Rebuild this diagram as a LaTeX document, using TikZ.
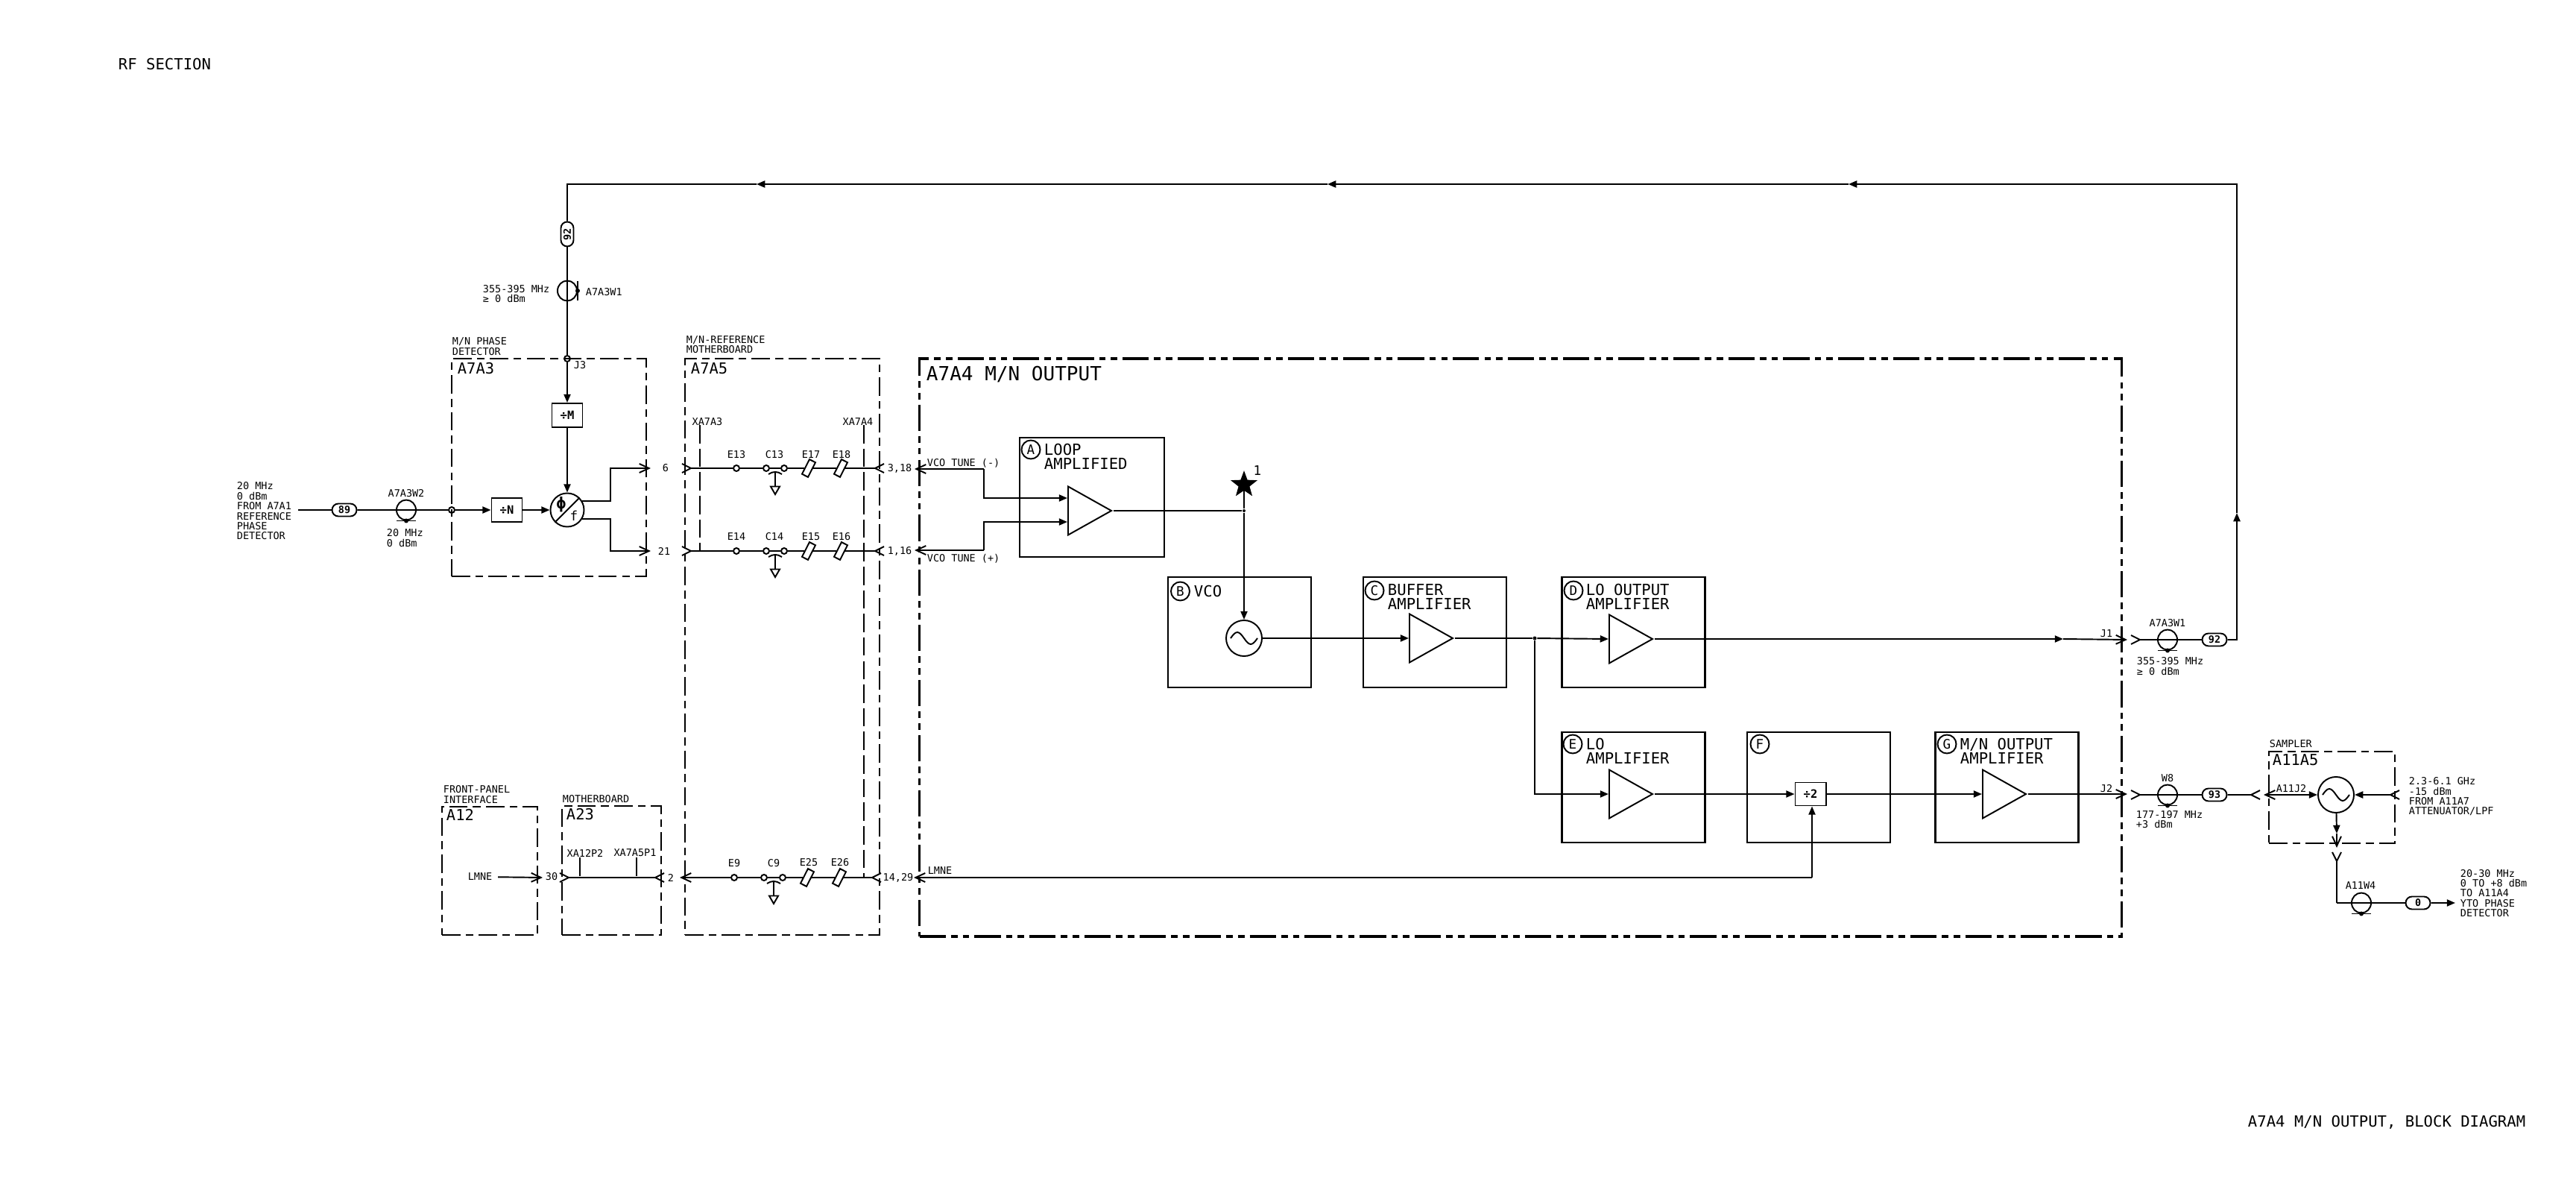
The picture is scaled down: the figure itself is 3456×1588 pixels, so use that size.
\documentclass[tikz,border=0pt]{standalone}
\usepackage{fontspec}
\setmainfont{DejaVu Sans Mono}
\usetikzlibrary{arrows.meta,shapes.geometric,shapes.misc}

\begin{document}
\begin{tikzpicture}[x=0.01cm, y=-0.01cm, line width=0.55pt,
  lab/.style={inner sep=0pt, align=left, font=\fontsize{3.83}{3.8}\selectfont},
  txt/.style={lab, anchor=west},
  sub/.style={inner sep=0pt, anchor=west, font=\fontsize{5.8}{5.8}\selectfont},
  ttl/.style={inner sep=0pt, anchor=west, align=left, font=\fontsize{5.86}{5.4}\selectfont},
  box/.style={draw, line width=0.7pt, minimum width=1.92cm, minimum height=1.48cm, inner sep=0pt},
  asm/.style={draw, line width=0.7pt, inner sep=0pt, dash pattern=on 7pt off 2pt on 3pt off 2pt},
  tag/.style={draw, circle, minimum size=0.25cm, inner sep=0pt, font=\fontsize{5}{5}\selectfont},
  amp/.style={draw, isosceles triangle, isosceles triangle stretches, minimum width=0.65cm, minimum height=0.58cm, inner sep=0pt, anchor=lower side},
  ov/.style={draw, rounded rectangle, minimum width=0.33cm, minimum height=0.17cm, inner sep=0pt, font=\fontsize{3.8}{3.8}\bfseries\selectfont},
  coax/.style={draw, ellipse, minimum width=0.26cm, minimum height=0.27cm, inner sep=0pt},
  pad/.style={draw, circle, minimum size=0.08cm, inner sep=0pt},
  res/.style={draw, rectangle, minimum width=0.09cm, minimum height=0.22cm, inner sep=0pt, rotate=-27},
  gnd/.style={draw, regular polygon, regular polygon sides=3, shape border rotate=180, minimum size=0.14cm, inner sep=0pt},
  div/.style={draw, minimum width=0.41cm, minimum height=0.32cm, inner sep=0pt, font=\fontsize{4.4}{4.4}\bfseries\selectfont},
  osc/.style={draw, circle, minimum size=0.48cm, inner sep=0pt},
  dot/.style={circle, fill, minimum size=0.05cm, inner sep=0pt},
  xdash/.style={dash pattern=on 7pt off 2pt},
  fil/.style={-{Triangle[length=3.2pt,width=2.6pt]}},
  opn/.style={-{Straight Barb[length=3.7pt,width=3.4pt]}},
  rev/.style={{Straight Barb[reversed,length=3.4pt,width=3.4pt]}-},
  rvend/.style={-{Straight Barb[reversed,length=3.4pt,width=3.4pt]}},
  revboth/.style={{Straight Barb[reversed,length=3.4pt,width=3.4pt]}-{Straight Barb[reversed,length=3.4pt,width=3.4pt]}},
  revfil/.style={{Straight Barb[reversed,length=3.4pt,width=3.4pt]}-{Triangle[length=3.2pt,width=2.6pt]}},
  opnfil/.style={{Straight Barb[length=3.7pt,width=3.4pt]}-{Triangle[length=3.2pt,width=2.6pt]}}]
  \path[use as bounding box, fill=white] (0,0) rectangle (3456,1588);
  % sheet titles
  \node[ttl] (sheet) at (158,86) {RF SECTION};
  \node[ttl] (caption) at (3015,1505) {A7A4 M/N OUTPUT, BLOCK DIAGRAM};
  % assemblies
  \node[asm, minimum width=2.61cm, minimum height=2.92cm] (a7a3) at (736.5,627) {};
  \node[asm, minimum width=2.61cm, minimum height=7.73cm] (a7a5) at (1049.5,867.5) {};
  \node[asm, line width=1.1pt, minimum width=16.12cm, minimum height=7.74cm, dash pattern=on 10pt off 2pt on 2.5pt off 2pt on 2.5pt off 2pt] (a7a4) at (2040,868.5) {};
  \node[asm, minimum width=1.28cm, minimum height=1.72cm] (a12) at (657,1168) {};
  \node[asm, minimum width=1.33cm, minimum height=1.73cm] (a23) at (820.5,1167.5) {};
  \node[asm, minimum width=1.69cm, minimum height=1.23cm] (a11a5) at (3128.5,1069.5) {};
  \node[txt] (a7a3n) at (606,464.5) {M/N PHASE\\DETECTOR};
  \node[sub] (a7a3t) at (613,494) {A7A3};
  \node[txt] (a7a5n) at (920,462) {M/N-REFERENCE\\MOTHERBOARD};
  \node[sub] (a7a5t) at (926,494) {A7A5};
  \node[inner sep=0pt, anchor=west, font=\fontsize{7.4}{7.4}\selectfont] (a7a4t) at (1242,502) {A7A4 M/N OUTPUT};
  \node[txt] (a12n) at (594,1065.5) {FRONT-PANEL\\INTERFACE};
  \node[sub] (a12t) at (598,1093) {A12};
  \node[txt] (a23n) at (754,1072) {MOTHERBOARD};
  \node[sub] (a23t) at (759,1092) {A23};
  \node[txt] (a11n) at (3044,998) {SAMPLER};
  \node[sub] (a11t) at (3048,1019) {A11A5};
  % phase detector
  \node[pad] (j3) at (761,481) {};
  \node[lab] (j3t) at (778,490) {J3};
  \node[div] (divm) at (761,557) {÷M};
  \node[div] (divn) at (680,684) {÷N};
  \node[osc, minimum size=0.45cm] (phd) at (761,684) {};
  \node[inner sep=0pt, font=\fontsize{6}{6}\bfseries\selectfont] (phi) at (753,677) {ϕ};
  \node[inner sep=0pt, font=\fontsize{5}{5}\selectfont] (fre) at (770,692) {f};
  \draw (phd.north east) -- (phd.south west);
  \node[pad] (jin) at (606,684) {};
  \node[ov] (ov89) at (462,684) {89};
  \node[coax] (w2) at (545,684) {};
  \draw (w2.south) +(-13,0) -- +(13,0);
  \fill (w2.south) circle (3);
  \node[txt] (intxt) at (317,685.5) {20 MHz\\0 dBm\\FROM A7A1\\REFERENCE\\PHASE\\DETECTOR};
  \node[lab] (w2t) at (545,662) {A7A3W2};
  \node[txt] (w2v) at (518,721.5) {20 MHz\\0 dBm};
  % feedback cable
  \node[ov, rotate=90] (ov92a) at (761,314) {92};
  \node[coax] (w1a) at (761,390) {};
  \draw (w1a.east) +(0,-13) -- +(0,13);
  \fill (w1a.east) circle (3);
  \node[txt] (w1av) at (647,394) {355-395 MHz\\≥ 0 dBm};
  \node[txt] (w1at) at (785,392) {A7A3W1};
  % motherboard A7A5
  \node[lab] (p6) at (893,628) {6};
  \node[lab] (p21) at (891,739) {21};
  \node[lab] (p318) at (1207,628) {3,18};
  \node[lab] (p116) at (1207,739) {1,16};
  \node[lab] (p1429) at (1205,1177) {14,29};
  \node[lab] (p2) at (900,1177) {2};
  \node[lab] (p30) at (740,1176) {30};
  \node[lab] (xa3) at (949,566) {XA7A3};
  \node[lab] (xa4) at (1151,566) {XA7A4};
  \node[lab] (xa12) at (785,1144) {XA12P2};
  \node[lab] (xa75) at (852,1144) {XA7A5P1};
  \node[pad] (e13) at (988,628) {};
  \node[pad] (c13a) at (1028,628) {};
  \node[pad] (c13b) at (1052,628) {};
  \node[res] (e17) at (1085,628) {};
  \node[res] (e18) at (1128,628) {};
  \node[gnd] (g13) at (1040,656) {};
  \node[lab] (e13t) at (988,610) {E13};
  \node[lab] (c13t) at (1039,610) {C13};
  \node[lab] (e17t) at (1088,610) {E17};
  \node[lab] (e18t) at (1129,610) {E18};
  \node[pad] (e14) at (988,739) {};
  \node[pad] (c14a) at (1028,739) {};
  \node[pad] (c14b) at (1052,739) {};
  \node[res] (e15) at (1085,739) {};
  \node[res] (e16) at (1128,739) {};
  \node[gnd] (g14) at (1040,767) {};
  \node[lab] (e14t) at (988,720) {E14};
  \node[lab] (c14t) at (1039,720) {C14};
  \node[lab] (e15t) at (1088,720) {E15};
  \node[lab] (e16t) at (1129,720) {E16};
  \node[pad] (e9) at (985,1177) {};
  \node[pad] (c9a) at (1025,1177) {};
  \node[pad] (c9b) at (1050,1177) {};
  \node[res] (e25) at (1083,1177) {};
  \node[res] (e26) at (1126,1177) {};
  \node[gnd] (g9) at (1038,1205) {};
  \node[lab] (e9t) at (985,1158) {E9};
  \node[lab] (c9t) at (1038,1158) {C9};
  \node[lab] (e25t) at (1085,1157) {E25};
  \node[lab] (e26t) at (1127,1157) {E26};
  \coordinate (k13) at (1040,633);
  \coordinate (k14) at (1040,744);
  \coordinate (k9) at (1038,1182);
  \draw (k13) -- (g13);
  \draw (k14) -- (g14);
  \draw (k9) -- (g9);
  \draw ([shift={(-9,3)}]k13) to[bend left=35] ([shift={(9,3)}]k13);
  \draw ([shift={(-9,3)}]k14) to[bend left=35] ([shift={(9,3)}]k14);
  \draw ([shift={(-9,3)}]k9) to[bend left=35] ([shift={(9,3)}]k9);
  % blocks of A7A4
  \node[box, minimum width=1.94cm, minimum height=1.6cm] (blka) at (1465,667) {};
  \node[box] (blkb) at (1663,848) {};
  \node[box] (blkc) at (1925,848) {};
  \node[box] (blkd) at (2191.5,848) {};
  \node[box] (blke) at (2191.5,1056) {};
  \node[box] (blkf) at (2440,1056) {};
  \node[box] (blkg) at (2692.5,1056) {};
  \node[tag] (taga) at (1383,603) {A};
  \node[tag] (tagb) at (1583.5,793) {B};
  \node[tag] (tagc) at (1844,792) {C};
  \node[tag] (tagd) at (2111,792) {D};
  \node[tag] (tage) at (2110,998) {E};
  \node[tag] (tagf) at (2361,998) {F};
  \node[tag] (tagg) at (2612,998) {G};
  \node[ttl] (blkat) at (1400,612.5) {LOOP\\AMPLIFIED};
  \node[ttl] (blkbt) at (1601,793) {VCO};
  \node[ttl] (blkct) at (1861,800) {BUFFER\\AMPLIFIER};
  \node[ttl] (blkdt) at (2127,800) {LO OUTPUT\\AMPLIFIER};
  \node[ttl] (blket) at (2127,1007) {LO\\AMPLIFIER};
  \node[ttl] (blkgt) at (2629,1007) {M/N OUTPUT\\AMPLIFIER};
  \node[amp] (ampa) at (1432,685) {};
  \node[amp] (ampc) at (1890,856) {};
  \node[amp] (ampd) at (2158,857) {};
  \node[amp] (ampe) at (2158,1065) {};
  \node[amp] (ampg) at (2659,1065) {};
  \node[osc] (vco) at (1669,856) {};
  \node[osc] (smp) at (3134,1066) {};
  \draw ([shift={(-18,0)}]vco.center) sin ([shift={(-9,-8)}]vco.center) cos (vco.center) sin ([shift={(9,8)}]vco.center) cos ([shift={(18,0)}]vco.center);
  \draw ([shift={(-18,0)}]smp.center) sin ([shift={(-9,-8)}]smp.center) cos (smp.center) sin ([shift={(9,8)}]smp.center) cos ([shift={(18,0)}]smp.center);
  \node[div, minimum height=0.31cm] (div2) at (2429,1065) {÷2};
  \node[dot, minimum size=0.04cm] (jloop) at (1669,685) {};
  \node[dot] (jbuf) at (2059,856) {};
  \node[draw, fill, star, star points=5, star point ratio=2.4, minimum size=0.32cm, inner sep=0pt] (star) at (1669,650) {};
  \node[lab, font=\fontsize{5}{5}\selectfont] (star1) at (1687,631) {1};
  \node[txt] (tunem) at (1243,621) {VCO TUNE (-)};
  \node[txt] (tunep) at (1243,749) {VCO TUNE (+)};
  \node[lab] (lmnec) at (1261,1168) {LMNE};
  \node[lab] (j1t) at (2826,850) {J1};
  \node[lab] (j2t) at (2826,1058) {J2};
  \node[lab, inner sep=2pt] (lmnea) at (644,1176) {LMNE};
  % cables at the right
  \node[coax] (w1b) at (2908,858) {};
  \draw (w1b.south) +(-13,0) -- +(13,0);
  \fill (w1b.south) circle (3);
  \node[ov] (ov92b) at (2971,858) {92};
  \node[lab] (w1bt) at (2908,836) {A7A3W1};
  \node[txt] (w1bv) at (2866,893.5) {355-395 MHz\\≥ 0 dBm};
  \node[coax] (w8) at (2908,1066) {};
  \draw (w8.south) +(-13,0) -- +(13,0);
  \fill (w8.south) circle (3);
  \node[ov] (ov93) at (2971,1066) {93};
  \node[lab] (w8t) at (2908,1044) {W8};
  \node[txt] (w8v) at (2865,1099) {177-197 MHz\\+3 dBm};
  \node[lab] (a11j2) at (3074,1058) {A11J2};
  \node[txt] (lotxt) at (3231,1068.5) {2.3-6.1 GHz\\-15 dBm\\FROM A11A7\\ATTENUATOR/LPF};
  \node[coax] (w4) at (3168,1211) {};
  \draw (w4.south) +(-13,0) -- +(13,0);
  \fill (w4.south) circle (3);
  \node[ov] (ov0) at (3244,1211) {0};
  \node[lab] (w4t) at (3167,1188) {A11W4};
  \node[txt] (outtxt) at (3300,1198) {20-30 MHz\\0 TO +8 dBm\\TO A11A4\\YTO PHASE\\DETECTOR};
  % connector ends
  \coordinate (inl) at (400,684);
  \coordinate (cr) at (3001,858);
  \coordinate (up) at (3001,688);
  \coordinate (ctr) at (3001,247);
  \coordinate (top1) at (2480,247);
  \coordinate (top2) at (1781,247);
  \coordinate (top3) at (1015,247);
  \coordinate (ctl) at (761,247);
  \coordinate (bend6) at (819,628);
  \coordinate (bend21) at (819,739);
  \coordinate (t6) at (873,628);
  \coordinate (t21) at (873,739);
  \coordinate (r1l) at (914,628);
  \coordinate (r1r) at (1187,628);
  \coordinate (r2l) at (914,739);
  \coordinate (r2r) at (1187,739);
  \coordinate (r3r) at (1183,1177);
  \coordinate (r3l) at (912,1177);
  \coordinate (a23l) at (750,1177);
  \coordinate (a23r) at (892,1177);
  \coordinate (a12e) at (728,1177);
  \coordinate (tm) at (1227,629);
  \coordinate (tp) at (1227,738);
  \coordinate (tmb) at (1320,629);
  \coordinate (tpb) at (1320,738);
  \coordinate (ina) at (1432,668);
  \coordinate (inb) at (1432,700);
  \coordinate (lmt) at (1226,1177);
  \coordinate (lmc) at (2431,1177);
  \coordinate (mid1) at (2768,857);
  \coordinate (j1e) at (2854,858);
  \coordinate (j1s) at (2858,858);
  \coordinate (j2e) at (2854,1065);
  \coordinate (j2s) at (2858,1066);
  \coordinate (s93) at (3033,1066);
  \coordinate (sj2) at (3037,1066);
  \coordinate (slo) at (3220,1066);
  \coordinate (sm1) at (3135,1118);
  \coordinate (sm2) at (3135,1137);
  \coordinate (sm3) at (3135,1142);
  \coordinate (w4c) at (3135,1211);
  \coordinate (oute) at (3294,1211);
  \coordinate (xa3a) at (939,570);
  \coordinate (xa3b) at (939,739);
  \coordinate (xa4a) at (1159,570);
  \coordinate (xa4b) at (1159,1177);
  \coordinate (xa12a) at (778,1150);
  \coordinate (xa12b) at (778,1177);
  \coordinate (xa75a) at (854,1150);
  \coordinate (xa75b) at (854,1177);
  % connectors
  \draw[fil] (ov92b) -- (cr) -- (up);
  \draw[fil] (up) -- (ctr) -- (top1);
  \draw[fil] (top1) -- (top2);
  \draw[fil] (top2) -- (top3);
  \draw (top3) -- (ctl) -- (ov92a);
  \draw (ov92a) -- (w1a.center) -- (j3);
  \draw[fil] (j3) -- (divm);
  \draw[fil] (divm) -- (phd);
  \draw (inl) -- (ov89);
  \draw (ov89) -- (w2.center) -- (jin);
  \draw[fil] (jin) -- (divn);
  \draw[fil] (divn) -- (phd);
  \draw[opn] (phd.30) -| (bend6) -- (t6);
  \draw[opn] (phd.-30) -| (bend21) -- (t21);
  \draw[rev] (r1l) -- (e13);
  \draw (e13) -- (c13a) -- (c13b) -- (e17) -- (e18);
  \draw[rvend] (e18) -- (r1r);
  \draw[rev] (r2l) -- (e14);
  \draw (e14) -- (c14a) -- (c14b) -- (e15) -- (e16);
  \draw[rvend] (e16) -- (r2r);
  \draw[rev] (r3r) -- (e26);
  \draw (e26) -- (e25) -- (c9b) -- (c9a) -- (e9);
  \draw[opn] (e9) -- (r3l);
  \draw[revboth] (a23l) -- (a23r);
  \draw[opn] (lmnea) -- (a12e);
  \draw[xdash] (xa3a) -- (xa3b);
  \draw[xdash] (xa4a) -- (xa4b);
  \draw[xdash] (xa12a) -- (xa12b);
  \draw[xdash] (xa75a) -- (xa75b);
  \draw[opn] (tmb) -- (tm);
  \draw[opn] (tpb) -- (tp);
  \draw[fil] (tmb) |- (ina);
  \draw[fil] (tpb) |- (inb);
  \draw (ampa.apex) -- (jloop);
  \draw (star) -- (jloop);
  \draw[fil] (jloop) -- (vco);
  \draw[fil] (vco) -- (ampc.lower side);
  \draw (ampc.apex) -- (jbuf);
  \draw[fil] (jbuf) -- (ampd.lower side);
  \draw[fil] (jbuf) |- (ampe.lower side);
  \draw[fil] (ampd.apex) -- (mid1);
  \draw[opn] (mid1) -- (j1e);
  \draw[fil] (ampe.apex) -- (div2);
  \draw[fil] (div2) -- (ampg.lower side);
  \draw[opn] (ampg.apex) -- (j2e);
  \draw[opn] (lmc) -- (lmt);
  \draw[fil] (lmc) -- (lmc |- div2.south);
  \draw[rev] (j1s) -- (w1b.center);
  \draw (w1b.center) -- (ov92b);
  \draw[rev] (j2s) -- (w8.center);
  \draw (w8.center) -- (ov93);
  \draw[rvend] (ov93) -- (s93);
  \draw[opnfil] (sj2) -- (smp);
  \draw[revfil] (slo) -- (smp);
  \draw[fil] (smp) -- (sm1);
  \draw[opn] (sm1) -- (sm2);
  \draw[rev] (sm3) -- (w4c);
  \draw (w4c) -- (w4.center) -- (ov0);
  \draw[fil] (ov0) -- (oute);
\end{tikzpicture}
\end{document}
